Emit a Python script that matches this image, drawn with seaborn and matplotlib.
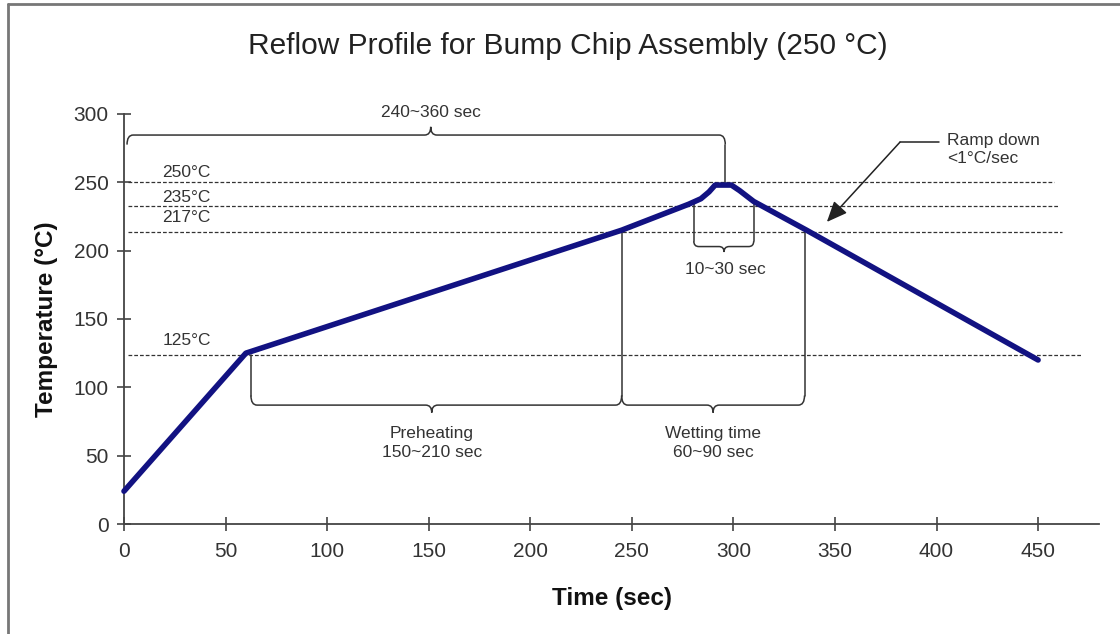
import numpy as np
import matplotlib.pyplot as plt
import seaborn as sns
import pandas as pd
from matplotlib.path import Path
from matplotlib.patches import PathPatch
from matplotlib.lines import Line2D

# reflow profile
time_sec = [0, 60, 245, 278, 284, 288, 291, 299, 303, 310, 336, 450]
temp_c = [24, 125, 215, 234, 238, 243, 248, 248, 244, 236, 215, 120]

# dashed reference levels (as drawn) and their labels
ref_levels = [250, 233, 214, 124]
ref_labels = ["250°C", "235°C", "217°C", "125°C"]
ref_ends = [458, 460, 462, 471]

x_ticks = [0, 50, 100, 150, 200, 250, 300, 350, 400, 450]
y_ticks = [0, 50, 100, 150, 200, 250, 300]

sns.set_style("ticks")
plt.rcParams['font.family'] = ['Liberation Sans', 'DejaVu Sans']

ink = '#333333'
navy = '#121282'

fig = plt.figure(figsize=(11.2, 6.34), dpi=100)
ax = fig.add_axes([0.1107, 0.1735, 0.8706, 0.6467])

df = pd.DataFrame({'Time': time_sec, 'Temp': temp_c})
sns.lineplot(data=df, x='Time', y='Temp', ax=ax, color=navy, lw=4,
             solid_joinstyle='round', solid_capstyle='round', zorder=5, clip_on=False)

# dashed reference lines
label_off = [7, 6, 10, 10]
for lvl, lab, end, off in zip(ref_levels, ref_labels, ref_ends, label_off):
    ax.plot([2, end], [lvl, lvl], ls=(0, (3, 1.6)), lw=0.9, color=ink, clip_on=False, zorder=2)
    ax.text(19, lvl + off, lab, fontsize=12.5, color=ink, va='center', ha='left')


def brace(x0, x1, xt, y, d_end, d_tip, r=3):
    verts = [(x0, y + d_end), (x0, y), (x0 + r, y), (xt - r, y),
             (xt, y), (xt, y + d_tip), (xt, y), (xt + r, y),
             (x1 - r, y), (x1, y), (x1, y + d_end)]
    codes = [Path.MOVETO, Path.CURVE3, Path.CURVE3, Path.LINETO,
             Path.CURVE3, Path.CURVE3, Path.CURVE3, Path.CURVE3,
             Path.LINETO, Path.CURVE3, Path.CURVE3]
    ax.add_patch(PathPatch(Path(verts, codes), fill=False, lw=1.1, ec=ink, clip_on=False, zorder=3))


def vline(x, y0, y1):
    ax.plot([x, x], [y0, y1], color=ink, lw=1.1, zorder=3, clip_on=False)


# total time brace
brace(1.5, 296, 151, 284.6, -7, 6)
vline(296, 277.6, 249)
ax.text(151, 301, "240~360 sec", fontsize=12.5, color=ink, ha='center', va='center')

# time above 235
vline(280.5, 235, 207)
vline(310, 236, 207)
brace(280.5, 310, 295.4, 203, 4, -4, r=2.5)
ax.text(296, 186, "10~30 sec", fontsize=12.5, color=ink, ha='center', va='center')

# preheating and wetting braces
vline(62.5, 124, 94)
vline(245, 215, 94)
vline(335, 215, 94)
brace(62.5, 245, 151.5, 87, 7, -5.5)
brace(245, 335, 290, 87, 7, -5.5)
ax.text(151.5, 59, "Preheating\n150~210 sec", fontsize=12.5, color=ink,
        ha='center', va='center', linespacing=1.35)
ax.text(290, 59, "Wetting time\n60~90 sec", fontsize=12.5, color=ink,
        ha='center', va='center', linespacing=1.35)

# ramp down note
ax.plot([401, 382], [279.4, 279.4], color='#222222', lw=1.1, clip_on=False)
ax.annotate("", xy=(346, 221), xytext=(382, 279.4),
            arrowprops=dict(arrowstyle='-|>,head_length=0.7,head_width=0.3', color='#222222',
                            lw=1.1, mutation_scale=18, shrinkA=0, shrinkB=0))
ax.text(405, 274, "Ramp down\n<1°C/sec", fontsize=12.5, color=ink, ha='left', va='center',
        linespacing=1.3)

ax.set_xlim(0, 480)
ax.set_ylim(0, 300)
ax.set_xticks(x_ticks)
ax.set_yticks(y_ticks)
sns.despine(ax=ax)
for s in ['left', 'bottom']:
    ax.spines[s].set_color('#444444')
    ax.spines[s].set_linewidth(1.3)
ax.tick_params(direction='inout', length=10, width=1.2, color='#444444',
               labelsize=15, labelcolor=ink)
ax.tick_params(axis='x', pad=8)
ax.tick_params(axis='y', pad=6)

ax.set_xlabel('Time (sec)', fontsize=17.5, fontweight='bold', color='#111111', labelpad=19)
ax.set_ylabel('Temperature (°C)', fontsize=17.5, fontweight='bold', color='#111111', labelpad=11)

fig.text(0.507, 0.927, 'Reflow Profile for Bump Chip Assembly (250 °C)', fontsize=21.5,
         color='#222222', ha='center', va='center')

# page frame on the left and top
fig.add_artist(Line2D([8 / 1120, 8 / 1120], [0, 1 - 4 / 634], color='#777777', lw=2))
fig.add_artist(Line2D([8 / 1120, 1], [1 - 4 / 634, 1 - 4 / 634], color='#777777', lw=2))

fig.savefig('out.png', dpi=100)
